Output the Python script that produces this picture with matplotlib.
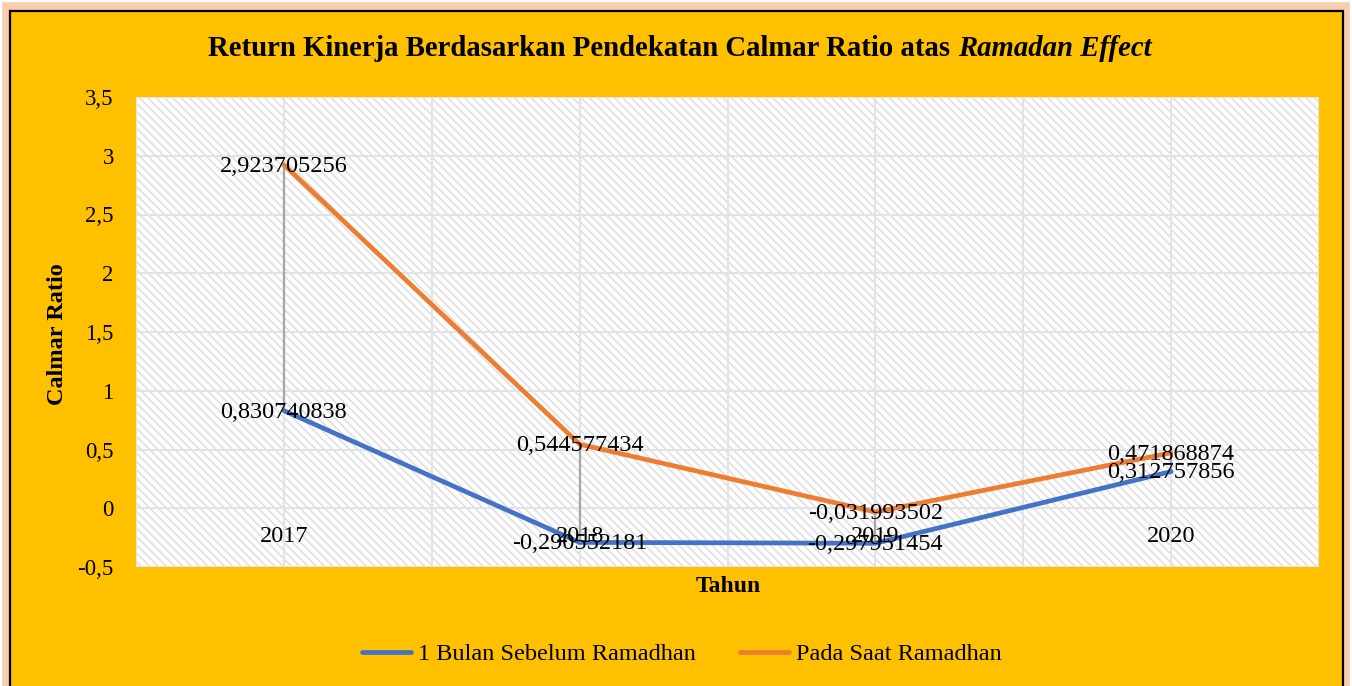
import matplotlib as mpl
mpl.use('Agg')
import matplotlib.pyplot as plt
from matplotlib.patches import Rectangle
import numpy as np

plt.rcParams['font.family'] = ['Liberation Serif', 'DejaVu Serif']
plt.rcParams['hatch.linewidth'] = 1.1

years = ['2017', '2018', '2019', '2020']
sebelum = [0.830740838, -0.290552181, -0.297951454, 0.312757856]
saat = [2.923705256, 0.544577434, -0.031993502, 0.471868874]
sebelum_lbl = ['0,830740838', '-0,290552181', '-0,297951454', '0,312757856']
saat_lbl = ['2,923705256', '0,544577434', '-0,031993502', '0,471868874']
yticks = [-0.5, 0, 0.5, 1, 1.5, 2, 2.5, 3, 3.5]
ytick_lbl = ['-0,5', '0', '0,5', '1', '1,5', '2', '2,5', '3', '3,5']

blue = '#4472C4'
orange = '#ED7D31'
gold = '#FFC000'

fig = plt.figure(figsize=(13.52, 6.86), dpi=100)
fig.patch.set_facecolor('white')

# peach glow round the frame
W, H = 1352.0, 686.0
for k, a in enumerate([0.25, 0.35, 0.5, 0.65, 0.8]):
    pad = 8 - 1.6 * k
    fig.patches.append(Rectangle((pad / W, -0.1), 1 - 2 * pad / W, 1.1 - pad / H,
                                 transform=fig.transFigure, facecolor='#F8CBAD',
                                 edgecolor='none', alpha=a, zorder=-3))
fig.patches.append(Rectangle((9.5 / W, -0.1), 1 - 19 / W, 1.1 - 10.5 / H,
                             transform=fig.transFigure, facecolor=gold,
                             edgecolor='black', linewidth=1.6, zorder=-2))

ax = fig.add_axes([136 / W, 1 - 567 / H, 1183 / W, 470 / H])
ax.set_facecolor('white')
ax.add_patch(Rectangle((0, 0), 1, 1, transform=ax.transAxes, facecolor='white',
                       edgecolor='#DEDEDE', linewidth=0, hatch='\\\\\\\\', zorder=0))

x = np.arange(len(years))
ax.set_xlim(-0.5, len(years) - 0.5)
ax.set_ylim(-0.5, 3.5)

# high-low lines
ax.vlines(x, sebelum, saat, color='#A6A6A6', linewidth=1.6, zorder=2)
ax.plot(x, sebelum, color=blue, linewidth=3.4, solid_capstyle='round', zorder=3,
        label='1 Bulan Sebelum Ramadhan')
ax.plot(x, saat, color=orange, linewidth=3.4, solid_capstyle='round', zorder=3,
        label='Pada Saat Ramadhan')

for i in x:
    ax.annotate(saat_lbl[i], (i, saat[i]), xytext=(0, -1), textcoords='offset points',
                ha='center', va='center', fontsize=17.5, zorder=5)
    ax.annotate(sebelum_lbl[i], (i, sebelum[i]), xytext=(0, -1), textcoords='offset points',
                ha='center', va='center', fontsize=17.5, zorder=5)
    ax.annotate(years[i], (i, 0), xytext=(0, -20), textcoords='offset points',
                ha='center', va='center', fontsize=17.5, zorder=4)

ax.set_yticks(yticks)
ax.set_yticklabels(ytick_lbl, fontsize=16.5)
ax.set_xticks([])
ax.set_xticks(np.arange(-0.5, len(years), 0.5), minor=True)
ax.tick_params(axis='y', length=0, pad=16)
ax.tick_params(axis='x', which='both', length=0, labelbottom=False)
ax.grid(True, axis='y', color='#E3E3E3', linewidth=1.5, zorder=1)
ax.grid(True, axis='x', which='minor', color='#E3E3E3', linewidth=1.5, zorder=1)
ax.set_axisbelow(True)
for s in ax.spines.values():
    s.set_visible(False)

fig.text(58 / W, 1 - 334 / H, 'Calmar Ratio', rotation=90, ha='center', va='center',
         fontsize=17.5, fontweight='bold')
fig.text(728 / W, 1 - 587 / H, 'Tahun', ha='center', va='center',
         fontsize=17, fontweight='bold')

t1 = fig.text(0, 0, 'Return Kinerja Berdasarkan Pendekatan Calmar Ratio atas ',
              fontsize=20.7, fontweight='bold', ha='left', va='center')
t2 = fig.text(0, 0, 'Ramadan Effect', fontsize=20.7, fontweight='bold', style='italic',
              ha='left', va='center')
fig.canvas.draw()
r = fig.canvas.get_renderer()
w1 = t1.get_window_extent(r).width
w2 = t2.get_window_extent(r).width
x0 = (680 - (w1 + w2) / 2) / W
t1.set_position((x0, 1 - 49 / H))
t2.set_position((x0 + w1 / W, 1 - 49 / H))

fig.legend(loc='center', bbox_to_anchor=(682 / W, 1 - 654 / H), ncol=2, frameon=False,
           fontsize=17.5, handlelength=2.0, handletextpad=0.3, columnspacing=1.8)

plt.savefig('out.png', dpi=100)
plt.close()
